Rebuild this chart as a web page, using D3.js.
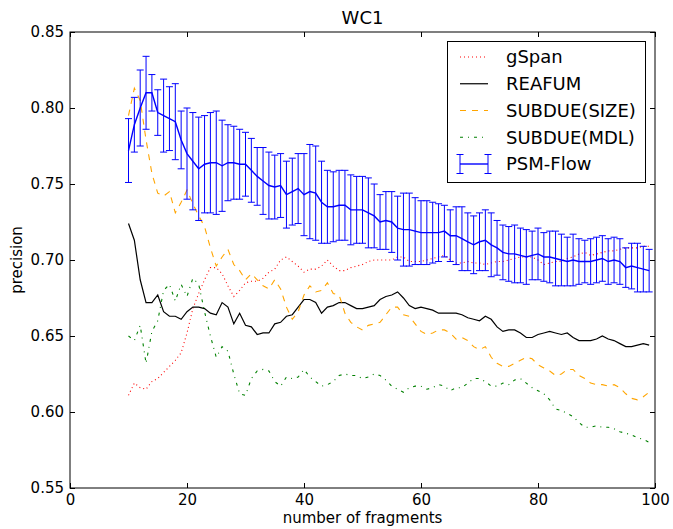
<!DOCTYPE html>
<html>
<head>
<meta charset="utf-8">
<script src="https://cdn.jsdelivr.net/npm/d3@7"></script>
<style>
    body { margin: 0; background: #ffffff; }
    text { font-family: "DejaVu Sans", sans-serif; fill: #000000; }
    .tick line { stroke: #000000; }
</style>
</head>
<body>
<script>

// Number of fragments (x axis)
var fragments = [10, 11, 12, 13, 14, 15, 16, 17, 18, 19,
    20, 21, 22, 23, 24, 25, 26, 27, 28, 29,
    30, 31, 32, 33, 34, 35, 36, 37, 38, 39,
    40, 41, 42, 43, 44, 45, 46, 47, 48, 49,
    50, 51, 52, 53, 54, 55, 56, 57, 58, 59,
    60, 61, 62, 63, 64, 65, 66, 67, 68, 69,
    70, 71, 72, 73, 74, 75, 76, 77, 78, 79,
    80, 81, 82, 83, 84, 85, 86, 87, 88, 89,
    90, 91, 92, 93, 94, 95, 96, 97, 98, 99];

// Precision of each method
var gSpan = [.611, .619, .616, .615, .620, .622, .626, .630, .634, .639,
    .652, .668, .678, .687, .695, .695, .691, .683, .676, .680,
    .685, .686, .686, .688, .692, .694, .700, .702, .699, .696,
    .692, .694, .694, .696, .700, .696, .693, .693, .695, .696,
    .697, .699, .700, .700, .700, .700, .702, .702, .699, .699,
    .699, .700, .701, .702, .703, .700, .698, .698, .699, .698,
    .698, .697, .698, .699, .699, .700, .701, .702, .702, .702,
    .700, .697, .698, .699, .699, .701, .702, .704, .705, .703,
    .704, .705, .706, .706, .707, .708, .708, .708, .709, .709];

var reafum = [.724, .713, .687, .672, .672, .677, .666, .663, .663, .661,
    .666, .669, .669, .668, .665, .664, .672, .669, .658, .665,
    .657, .656, .651, .652, .652, .658, .659, .663, .664, .669,
    .674, .674, .672, .665, .669, .670, .672, .672, .670, .668,
    .668, .669, .670, .674, .676, .677, .679, .675, .670, .668,
    .669, .668, .667, .665, .665, .665, .665, .664, .662, .661,
    .660, .663, .661, .656, .653, .654, .654, .652, .649, .649,
    .651, .652, .653, .652, .651, .652, .649, .647, .647, .647,
    .648, .650, .648, .647, .645, .643, .643, .644, .645, .644];

var subdueSize = [.795, .813, .805, .779, .757, .744, .742, .745, .731, .738,
    .746, .737, .729, .722, .708, .696, .702, .707, .697, .693,
    .687, .691, .687, .683, .681, .687, .681, .669, .661, .666,
    .677, .683, .679, .680, .685, .678, .677, .665, .659, .656,
    .654, .657, .658, .659, .664, .669, .669, .664, .663, .658,
    .653, .651, .652, .654, .654, .652, .648, .649, .647, .643,
    .641, .643, .636, .632, .630, .630, .632, .634, .636, .635,
    .631, .629, .627, .624, .625, .628, .628, .624, .622, .619,
    .618, .618, .617, .618, .616, .612, .609, .608, .610, .613];

var subdueMdl = [.650, .647, .657, .632, .653, .660, .680, .684, .673, .684,
    .676, .688, .684, .666, .650, .636, .643, .640, .625, .612,
    .611, .622, .627, .628, .627, .620, .617, .623, .622, .623,
    .628, .623, .620, .617, .618, .620, .624, .625, .624, .624,
    .622, .623, .625, .624, .621, .617, .615, .613, .616, .617,
    .617, .615, .616, .618, .617, .614, .616, .616, .619, .622,
    .622, .620, .617, .617, .619, .618, .621, .622, .619, .616,
    .614, .612, .608, .602, .601, .599, .597, .593, .590, .590,
    .591, .590, .590, .589, .587, .586, .585, .583, .582, .580];

var psmMean = [.772, .789, .800, .810, .810, .797, .795, .793, .791, .779,
    .770, .765, .760, .763, .764, .764, .762, .764, .764, .763,
    .763, .759, .755, .752, .749, .748, .749, .743, .745, .747,
    .743, .745, .744, .738, .735, .735, .736, .736, .733, .733,
    .733, .731, .729, .725, .726, .725, .721, .720, .720, .719,
    .718, .718, .718, .718, .719, .716, .716, .714, .712, .710,
    .712, .713, .710, .708, .705, .704, .704, .703, .702, .703,
    .704, .702, .702, .701, .700, .699, .700, .699, .699, .699,
    .700, .701, .699, .700, .699, .695, .696, .695, .694, .693];

var psmErr = [.021, .018, .025, .024, .012, .015, .024, .021, .025, .019,
    .030, .032, .034, .032, .033, .034, .030, .025, .024, .023,
    .021, .021, .019, .022, .022, .021, .021, .022, .022, .023,
    .027, .031, .031, .027, .024, .023, .023, .023, .023, .022,
    .022, .023, .021, .018, .019, .020, .021, .024, .024, .022,
    .021, .021, .020, .019, .017, .017, .019, .021, .019, .019,
    .019, .020, .021, .018, .018, .018, .019, .018, .018, .016,
    .017, .016, .017, .018, .017, .016, .017, .015, .014, .015,
    .015, .015, .015, .015, .015, .013, .015, .016, .015, .014];

// Axis ticks
var xTicks = [0, 20, 40, 60, 80, 100];
var yTicks = [0.55, 0.60, 0.65, 0.70, 0.75, 0.80, 0.85];

// Legend entries, in drawing order
var seriesNames = ["gSpan", "REAFUM", "SUBDUE(SIZE)", "SUBDUE(MDL)", "PSM-Flow"];


/*
 * Draws the precision chart
 */

function drawChart() {

    // Dimensions of the figure and of the axes box
    var svgWidth = 673;
    var svgHeight = 529;
    var margin = {left: 70, top: 32};
    var chartWidth = 585;
    var chartHeight = 456;

    const svg = d3.select("body").append("svg")
        .attr("width", svgWidth)
        .attr("height", svgHeight);

    const chart = svg.append("g")
        .attr("transform", `translate(${margin.left}, ${margin.top})`);

    // Scales
    const xScale = d3.scaleLinear()
        .domain([0, 100])
        .range([0, chartWidth]);

    const yScale = d3.scaleLinear()
        .domain([0.55, 0.85])
        .range([chartHeight, 0]);

    // Line styles per series
    var styles = [
        {values: gSpan, color: "#ff0000", dash: "1,3", width: 1.1},
        {values: reafum, color: "#000000", dash: null, width: 1.2},
        {values: subdueSize, color: "#ffa500", dash: "6,6", width: 1.1},
        {values: subdueMdl, color: "#008000", dash: "3,5,1,5", width: 1.1}
    ];

    var clip = chart.append("clipPath")
        .attr("id", "plotclip")
        .append("rect")
        .attr("width", chartWidth)
        .attr("height", chartHeight);

    const plot = chart.append("g").attr("clip-path", "url(#plotclip)");

    // Draw the four plain lines
    styles.forEach(function(style) {
        var line = d3.line()
            .x(function(d, i) { return xScale(fragments[i]); })
            .y(function(d) { return yScale(d); });

        plot.append("path")
            .datum(style.values)
            .attr("fill", "none")
            .attr("stroke", style.color)
            .attr("stroke-width", style.width)
            .attr("stroke-dasharray", style.dash)
            .attr("d", line);
    });

    // Error bars of PSM-Flow
    var capHalf = 3.5;
    var bars = plot.selectAll(".errbar")
        .data(psmMean)
        .enter()
        .append("g")
        .attr("class", "errbar")
        .attr("stroke", "#0000ff")
        .attr("stroke-width", 1);

    bars.append("line")
        .attr("x1", function(d, i) { return xScale(fragments[i]); })
        .attr("x2", function(d, i) { return xScale(fragments[i]); })
        .attr("y1", function(d, i) { return yScale(d - psmErr[i]); })
        .attr("y2", function(d, i) { return yScale(d + psmErr[i]); });

    bars.append("line")
        .attr("x1", function(d, i) { return xScale(fragments[i]) - capHalf; })
        .attr("x2", function(d, i) { return xScale(fragments[i]) + capHalf; })
        .attr("y1", function(d, i) { return yScale(d + psmErr[i]); })
        .attr("y2", function(d, i) { return yScale(d + psmErr[i]); });

    bars.append("line")
        .attr("x1", function(d, i) { return xScale(fragments[i]) - capHalf; })
        .attr("x2", function(d, i) { return xScale(fragments[i]) + capHalf; })
        .attr("y1", function(d, i) { return yScale(d - psmErr[i]); })
        .attr("y2", function(d, i) { return yScale(d - psmErr[i]); });

    // PSM-Flow mean line
    plot.append("path")
        .datum(psmMean)
        .attr("fill", "none")
        .attr("stroke", "#0000ff")
        .attr("stroke-width", 1.4)
        .attr("d", d3.line()
            .x(function(d, i) { return xScale(fragments[i]); })
            .y(function(d) { return yScale(d); }));

    // Axes with inward ticks on all four sides
    chart.append("g")
        .attr("transform", `translate(0, ${chartHeight})`)
        .call(d3.axisBottom(xScale).tickValues(xTicks).tickSize(-5).tickPadding(6))
        .call(function(g) { g.select(".domain").remove(); })
        .selectAll("text").style("font-size", "15px");

    chart.append("g")
        .call(d3.axisTop(xScale).tickValues(xTicks).tickSize(-5).tickFormat(""))
        .call(function(g) { g.select(".domain").remove(); });

    chart.append("g")
        .call(d3.axisLeft(yScale).tickValues(yTicks).tickSize(-5).tickPadding(6)
            .tickFormat(d3.format(".2f")))
        .call(function(g) { g.select(".domain").remove(); })
        .selectAll("text").style("font-size", "15px");

    chart.append("g")
        .attr("transform", `translate(${chartWidth}, 0)`)
        .call(d3.axisRight(yScale).tickValues(yTicks).tickSize(-5).tickFormat(""))
        .call(function(g) { g.select(".domain").remove(); });

    // Axes frame
    chart.append("rect")
        .attr("width", chartWidth)
        .attr("height", chartHeight)
        .attr("fill", "none")
        .attr("stroke", "#000000")
        .attr("stroke-width", 1);

    // Title and axis labels
    svg.append("text")
        .attr("x", margin.left + chartWidth / 2)
        .attr("y", 24)
        .attr("text-anchor", "middle")
        .style("font-size", "18px")
        .text("WC1");

    svg.append("text")
        .attr("x", margin.left + chartWidth / 2)
        .attr("y", 523)
        .attr("text-anchor", "middle")
        .style("font-size", "15px")
        .text("number of fragments");

    svg.append("text")
        .attr("transform", `translate(22, ${margin.top + chartHeight / 2}) rotate(-90)`)
        .attr("text-anchor", "middle")
        .style("font-size", "15px")
        .text("precision");

    // Legend
    var legend = svg.append("g");
    legend.append("rect")
        .attr("x", 447.5)
        .attr("y", 41.5)
        .attr("width", 198)
        .attr("height", 141)
        .attr("fill", "#ffffff")
        .attr("stroke", "#000000")
        .attr("stroke-width", 1);

    var rowY = d3.scaleLinear().domain([0, 4]).range([57, 164]);
    var sampleX1 = 460;
    var sampleX2 = 488;

    styles.forEach(function(style, i) {
        legend.append("line")
            .attr("x1", sampleX1)
            .attr("x2", sampleX2)
            .attr("y1", rowY(i))
            .attr("y2", rowY(i))
            .attr("stroke", style.color)
            .attr("stroke-width", style.width)
            .attr("stroke-dasharray", style.dash);
    });

    // Errorbar legend handle: line with two capped bars
    var handle = legend.append("g").attr("stroke", "#0000ff").attr("stroke-width", 1);
    handle.append("line")
        .attr("x1", sampleX1).attr("x2", sampleX2)
        .attr("y1", rowY(4)).attr("y2", rowY(4))
        .attr("stroke-width", 1.4);
    [sampleX1, sampleX2].forEach(function(x) {
        handle.append("line").attr("x1", x).attr("x2", x)
            .attr("y1", rowY(4) - 9.5).attr("y2", rowY(4) + 9.5);
        handle.append("line").attr("x1", x - capHalf).attr("x2", x + capHalf)
            .attr("y1", rowY(4) - 9.5).attr("y2", rowY(4) - 9.5);
        handle.append("line").attr("x1", x - capHalf).attr("x2", x + capHalf)
            .attr("y1", rowY(4) + 9.5).attr("y2", rowY(4) + 9.5);
    });

    seriesNames.forEach(function(name, i) {
        legend.append("text")
            .attr("x", 506)
            .attr("y", rowY(i))
            .attr("dy", "0.36em")
            .style("font-size", "18px")
            .text(name);
    });
};

drawChart();

</script>
</body>
</html>
